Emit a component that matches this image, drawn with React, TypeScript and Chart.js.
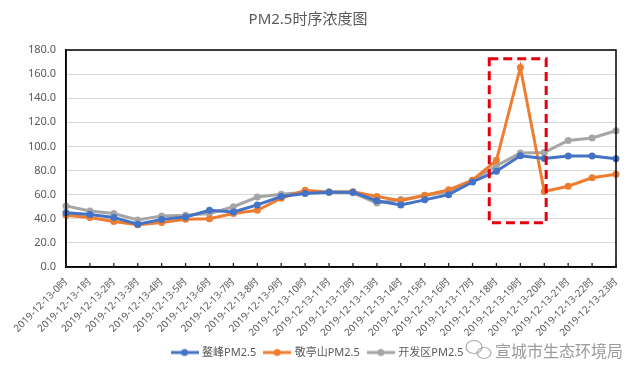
import React, { useEffect, useRef } from "react";
import { Chart, registerables } from "chart.js";

Chart.register(...registerables);

const categories = [
  "2019-12-13-0时", "2019-12-13-1时", "2019-12-13-2时", "2019-12-13-3时",
  "2019-12-13-4时", "2019-12-13-5时", "2019-12-13-6时", "2019-12-13-7时",
  "2019-12-13-8时", "2019-12-13-9时", "2019-12-13-10时", "2019-12-13-11时",
  "2019-12-13-12时", "2019-12-13-13时", "2019-12-13-14时", "2019-12-13-15时",
  "2019-12-13-16时", "2019-12-13-17时", "2019-12-13-18时", "2019-12-13-19时",
  "2019-12-13-20时", "2019-12-13-21时", "2019-12-13-22时", "2019-12-13-23时",
];

const aofeng = [45, 43.5, 41, 35.5, 39.5, 41.5, 47, 45.7, 51.5, 58.5, 61, 62, 62, 55, 51.5, 55.7, 60, 70.5, 79.5, 92.3, 90, 92, 92, 89.8];
const jingtingshan = [43, 41, 37.7, 35, 37, 39.6, 40, 44.3, 47, 57, 63.7, 62, 62.5, 58.5, 55, 59.5, 64, 72, 88.5, 165.5, 62.6, 67, 74, 77];
const kaifaqu = [50.7, 46.5, 44.3, 39, 42.4, 43, 44.3, 50, 58, 60.4, 62, 62.5, 61.5, 53, 56, 59, 62.5, 72, 84, 94.5, 95, 105, 107, 113];

const seriesNames = ["鳌峰PM2.5", "敬亭山PM2.5", "开发区PM2.5"];
const seriesColors = ["#4472C4", "#ED7D31", "#A5A5A5"];

const yTicks = { min: 0, max: 180, step: 20 };

// highlight box in data coordinates (category index, value)
const boxX = [17.7, 20.08];
const boxY = [36.8, 172.7];

const titleText = "PM2.5时序浓度图";
const watermarkText = "宣城市生态环境局";

function legendIcon(color: string) {
  const c = document.createElement("canvas");
  c.width = 28;
  c.height = 10;
  const g = c.getContext("2d")!;
  g.strokeStyle = color;
  g.lineWidth = 3;
  g.beginPath();
  g.moveTo(0, 5);
  g.lineTo(28, 5);
  g.stroke();
  g.fillStyle = color;
  g.beginPath();
  g.arc(14, 5, 3.5, 0, Math.PI * 2);
  g.fill();
  return c;
}

export default function App() {
  const ref = useRef<HTMLCanvasElement>(null);

  useEffect(() => {
    if (!ref.current) return;
    Chart.defaults.font.family = "'Noto Sans', 'Noto Sans CJK SC', sans-serif";
    const icons = seriesColors.map(legendIcon);

    const framePlugin = {
      id: "frame",
      afterLayout(chart: any) {
        if (chart.legend) {
          chart.legend.left += 10;
          chart.legend.right += 10;
        }
      },
      afterDatasetsDraw(chart: any) {
        const { ctx, chartArea, scales } = chart;
        ctx.save();
        ctx.strokeStyle = "#000";
        ctx.lineWidth = 1.5;
        ctx.strokeRect(chartArea.left, chartArea.top, chartArea.right - chartArea.left, chartArea.bottom - chartArea.top);
        // inward tick marks on the x axis
        ctx.strokeStyle = "#222";
        ctx.lineWidth = 1.3;
        const xs = scales.x;
        for (let i = 0; i < categories.length; i++) {
          const px = xs.getPixelForTick(i);
          ctx.beginPath();
          ctx.moveTo(px, chartArea.bottom);
          ctx.lineTo(px, chartArea.bottom - 4);
          ctx.stroke();
        }
        // highlight box
        const x1 = xs.getPixelForValue(boxX[0]);
        const x2 = xs.getPixelForValue(boxX[1]);
        const y1 = scales.y.getPixelForValue(boxY[1]);
        const y2 = scales.y.getPixelForValue(boxY[0]);
        ctx.strokeStyle = "#E3000F";
        ctx.lineWidth = 3;
        ctx.setLineDash([9, 5]);
        ctx.strokeRect(x1, y1, x2 - x1, y2 - y1);
        ctx.setLineDash([]);
        ctx.restore();
      },
      afterDraw(chart: any) {
        const { ctx } = chart;
        ctx.save();
        // watermark
        ctx.strokeStyle = "rgba(160,160,160,0.9)";
        ctx.lineWidth = 1.2;
        ctx.beginPath();
        ctx.ellipse(474, 347, 8, 6.5, 0, 0, Math.PI * 2);
        ctx.stroke();
        ctx.beginPath();
        ctx.ellipse(484, 353, 7, 5.5, 0, 0, Math.PI * 2);
        ctx.stroke();
        ctx.fillStyle = "rgba(150,150,150,0.95)";
        ctx.font = "16px 'Noto Sans CJK SC', sans-serif";
        ctx.textBaseline = "middle";
        ctx.textAlign = "left";
        ctx.fillText(watermarkText, 495, 351);
        ctx.restore();
      },
    };

    const chart = new Chart(ref.current, {
      type: "line",
      data: {
        labels: categories,
        datasets: [aofeng, jingtingshan, kaifaqu].map((d, i) => ({
          label: seriesNames[i],
          data: d,
          borderColor: seriesColors[i],
          backgroundColor: seriesColors[i],
          borderWidth: 3,
          pointRadius: 3.5,
          pointBorderWidth: 0,
          pointBackgroundColor: seriesColors[i],
          tension: 0,
        })),
      },
      options: {
        animation: false,
        responsive: true,
        maintainAspectRatio: false,
        layout: { padding: { left: 0, right: 25, top: 0, bottom: 10 } },
        plugins: {
          title: {
            display: true,
            text: titleText,
            color: "#595959",
            font: { size: 15, weight: "normal" },
            padding: { top: 11, bottom: 21 },
          },
          legend: {
            position: "bottom",
            labels: {
              color: "#595959",
              font: { size: 11 },
              usePointStyle: true,
              pointStyleWidth: 24,
              padding: 9,
              generateLabels: (c: any) => {
                const items = (Chart.defaults.plugins.legend.labels as any).generateLabels(c);
                return items.map((it: any, i: number) => ({ ...it, pointStyle: icons[i] }));
              },
            },
          },
          tooltip: { enabled: false },
        },
        scales: {
          x: {
            offset: false,
            grid: { display: false, drawTicks: false },
            border: { display: true, color: "#000", width: 1.5 },
            ticks: {
              color: "#595959",
              font: { size: 10 },
              maxRotation: 45,
              minRotation: 45,
              autoSkip: false,
              padding: 9,
            },
            afterFit: (s: any) => { s.height = 71; },
          },
          y: {
            min: yTicks.min,
            max: yTicks.max,
            grid: { color: "#D9D9D9", lineWidth: 1, drawTicks: false },
            border: { display: true, color: "#000", width: 1.5 },
            ticks: {
              stepSize: yTicks.step,
              color: "#595959",
              font: { size: 11 },
              padding: 10,
              callback: (v: any) => Number(v).toFixed(1),
            },
            afterFit: (s: any) => { s.width = 66; },
          },
        },
      },
      plugins: [framePlugin],
    });
    return () => chart.destroy();
  }, []);

  return (
    <div style={{ position: "fixed", left: 0, top: 0, width: 641, height: 378, background: "#fff" }}>
      <canvas ref={ref} />
    </div>
  );
}
